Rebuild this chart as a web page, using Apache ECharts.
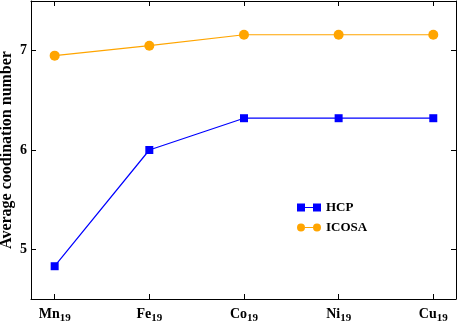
<!DOCTYPE html>
<html>
<head>
<meta charset="utf-8">
<script src="https://cdn.jsdelivr.net/npm/echarts@6/dist/echarts.min.js"></script>
<style>
  html, body { margin: 0; padding: 0; background: #fff; }
  #chart { width: 459px; height: 322px; }
</style>
</head>
<body>
<div id="chart"></div>
<script>
// cluster names (element + subscript atom count)
const elements = ['Mn', 'Fe', 'Co', 'Ni', 'Cu']
const atomCount = '19'
const positions = [0, 1, 2, 3, 4]

// average coordination number per cluster
const hcpValues = [4.83, 6.0, 6.32, 6.32, 6.32]
const icosaValues = [6.95, 7.05, 7.16, 7.16, 7.16]

const yTicks = [5, 6, 7]

const font = 'Liberation Serif'
const chart = echarts.init(document.getElementById('chart'))

const tickStyle = { show: true, inside: true, length: 5, lineStyle: { color: '#000', width: 1 } }
const lineStyle = { show: true, onZero: false, lineStyle: { color: '#000', width: 1 } }

const toPairs = (vals) => vals.map((v, i) => [positions[i], v])

chart.setOption({
    animation: false,
    backgroundColor: '#fff',
    grid: { left: 31, right: 3, top: 1, bottom: 23, outerBoundsMode: 'none', containLabel: false },
    legend: {
        left: 292,
        top: 196,
        orient: 'vertical',
        itemGap: 7,
        itemWidth: 24,
        itemHeight: 8,
        textStyle: { fontFamily: font, fontWeight: 'bold', fontSize: 13, color: '#000' },
        data: [
            { name: 'HCP', icon: 'path://M0,0h8v8h-8z M8,3.4h8v1.2h-8z M16,0h8v8h-8z' },
            { name: 'ICOSA', icon: 'path://M0,4a4,4 0 1,0 8,0a4,4 0 1,0 -8,0z M8,3.4h8v1.2h-8z M16,4a4,4 0 1,0 8,0a4,4 0 1,0 -8,0z' },
        ],
    },
    xAxis: [
        {
            type: 'value',
            min: -0.25,
            max: 4.24,
            axisLine: lineStyle,
            axisTick: Object.assign({ customValues: positions }, tickStyle),
            splitLine: { show: false },
            axisLabel: {
                customValues: positions,
                margin: 6,
                formatter: (v) => '{e|' + elements[Math.round(v)] + '}{s|' + atomCount + '}',
                rich: {
                    e: { fontFamily: font, fontWeight: 'bold', fontSize: 14, color: '#000' },
                    s: { fontFamily: font, fontWeight: 'bold', fontSize: 11, color: '#000', padding: [8, 0, 0, 0] },
                },
            },
        },
        {
            type: 'value',
            position: 'top',
            min: -0.25,
            max: 4.24,
            axisLine: lineStyle,
            axisTick: Object.assign({ customValues: positions }, tickStyle),
            axisLabel: { show: false },
            splitLine: { show: false },
        },
    ],
    yAxis: [
        {
            type: 'value',
            min: 4.5,
            max: 7.5,
            name: 'Average coodination number',
            nameLocation: 'middle',
            nameGap: 16,
            nameMoveOverlap: false,
            nameTextStyle: { fontFamily: font, fontWeight: 'bold', fontSize: 16, color: '#000' },
            axisLine: lineStyle,
            axisTick: Object.assign({ customValues: yTicks }, tickStyle),
            splitLine: { show: false },
            axisLabel: {
                customValues: yTicks,
                margin: 4,
                fontFamily: font,
                fontWeight: 'bold',
                fontSize: 14,
                color: '#000',
            },
        },
        {
            type: 'value',
            position: 'right',
            min: 4.5,
            max: 7.5,
            axisLine: lineStyle,
            axisTick: Object.assign({ customValues: yTicks }, tickStyle),
            axisLabel: { show: false },
            splitLine: { show: false },
        },
    ],
    series: [
        {
            name: 'HCP',
            type: 'line',
            data: toPairs(hcpValues),
            color: '#0000ff',
            symbol: 'rect',
            symbolSize: 8,
            lineStyle: { width: 1.2 },
        },
        {
            name: 'ICOSA',
            type: 'line',
            data: toPairs(icosaValues),
            color: '#ffa500',
            symbol: 'circle',
            symbolSize: 10,
            lineStyle: { width: 1.2 },
        },
    ],
})
</script>
</body>
</html>
